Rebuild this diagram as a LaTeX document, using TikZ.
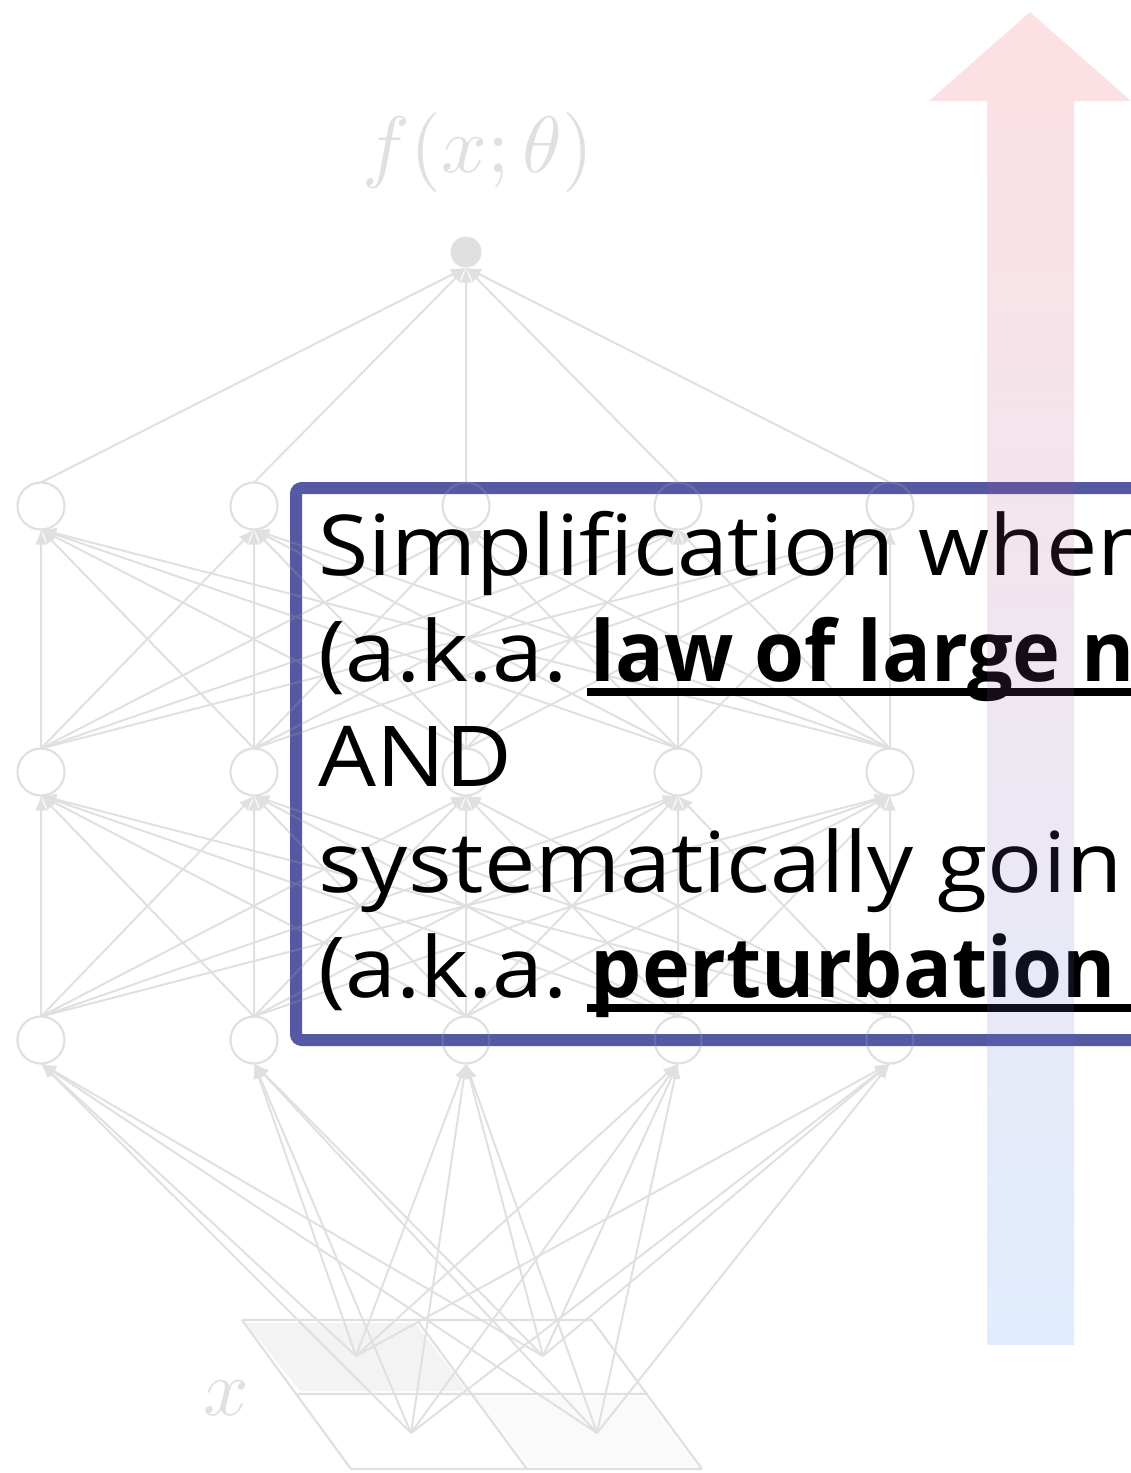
\documentclass[tikz,border=0pt]{standalone}
\usepackage{fontspec}
\setmainfont{Open Sans}
\newfontfamily\regfont{Open Sans}[FakeStretch=1.09]
\newfontfamily\boldfont{Open Sans}[FakeStretch=0.965]
\usetikzlibrary{arrows.meta}
\definecolor{boxblue}{RGB}{85,89,164}
\definecolor{netgray}{RGB}{152,152,152}
\definecolor{patchA}{RGB}{215,215,215}
\definecolor{patchB}{RGB}{238,238,238}
\definecolor{arrowred}{RGB}{241,48,62}
\definecolor{arrowblue}{RGB}{48,128,248}
\tikzset{
  neuron/.style={circle, draw=netgray, line width=2.2pt, minimum size=47pt, inner sep=0pt, outer sep=0pt},
  outnode/.style={circle, fill=netgray, minimum size=31pt, inner sep=0pt, outer sep=0pt},
  conn/.style={draw=netgray, line width=2pt, -{Latex[length=15pt,width=12pt]}},
  gridline/.style={draw=netgray, line width=2.2pt},
  mathlabel/.style={text=netgray, inner sep=0pt, scale=8},
  textline/.style={anchor=base west, inner sep=0pt, font=\fontsize{84}{100}\regfont},
  boldline/.style={anchor=base west, inner sep=0pt, font=\fontsize{84}{100}\boldfont\bfseries},
  ul/.style={line width=8pt, black},
  boxframe/.style={draw=boxblue, line width=12pt, rounded corners=6pt},
  bigarrow/.style={top color=arrowred, bottom color=arrowblue, fill opacity=0.15, draw=none},
}
\begin{document}
\begin{tikzpicture}[x=1pt,y=-1pt]
\useasboundingbox (0,0) rectangle (1131,1473);
\clip (0,0) rectangle (1131,1473);
% text box frame
\draw[boxframe] (296,488) rectangle (1400,1040);
% network (faint)
\begin{scope}[transparency group, opacity=0.3]
  % input patches
  \fill[patchA] (246,1323) -- (415,1323) -- (467,1391) -- (300,1391) -- cycle;
  \fill[patchB] (475,1397) -- (645,1397) -- (697,1466) -- (530,1466) -- cycle;
  \draw[gridline] (242,1320) -- (592,1320);
  \draw[gridline] (297,1394) -- (648,1394);
  \draw[gridline] (351,1469) -- (702,1469);
  \draw[gridline] (242,1320) -- (351,1469);
  \draw[gridline] (417,1320) -- (527,1469);
  \draw[gridline] (592,1320) -- (702,1469);
  \coordinate (in1) at (356,1356);
  \coordinate (in2) at (543,1356);
  \coordinate (in3) at (411,1433);
  \coordinate (in4) at (597,1433);
  % neurons
  \foreach \i/\x in {1/41,2/254,3/466,4/678,5/890} {
    \node[neuron] (a\i) at (\x,506) {};
    \node[neuron] (b\i) at (\x,772) {};
    \node[neuron] (c\i) at (\x,1040) {};
  }
  \node[outnode] (out) at (466,252) {};
  \node[mathlabel] (flabel) at (478,152) {$f(x;\theta)$};
  \node[mathlabel] (xlabel) at (226,1398) {$x$};
  % connections
  \foreach \i in {1,...,5} {
    \draw[conn] (a\i.north) -- (out.south);
    \foreach \j in {1,...,5} {
      \draw[conn] (b\i.north) -- (a\j.south);
      \draw[conn] (c\i.north) -- (b\j.south);
    }
    \foreach \k in {1,...,4} {
      \draw[conn] (in\k) -- (c\i.south);
    }
  }
\end{scope}
% text
\node[textline] (t1) at (318,575) {Simplification when};
\node[textline] (t2a) at (318,681) {(a.k.a.};
\node[boldline] (t2b) at ([xshift=22pt]t2a.base east) {law of large n};
\node[textline] (t3) at (318,786) {AND};
\node[textline] (t4) at (318,892) {systematically goin};
\node[textline] (t5a) at (318,997) {(a.k.a.};
\node[boldline] (t5b) at ([xshift=22pt]t5a.base east) {perturbation};
\draw[ul] ([xshift=-3pt,yshift=-11pt]t2b.base west) -- ++(700,0);
\draw[ul] ([xshift=-3pt,yshift=-11pt]t5b.base west) -- ++(700,0);
% big arrow
\shade[bigarrow] (987,1345) -- (987,101) -- (929,101) -- (1030,12) -- (1131,101) -- (1074,101) -- (1074,1345) -- cycle;
\end{tikzpicture}
\end{document}
